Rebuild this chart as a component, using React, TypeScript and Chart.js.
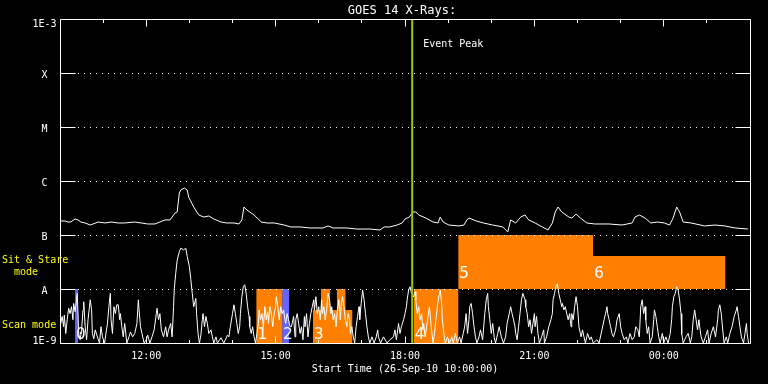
import React, { useEffect, useRef } from 'react';
import { Chart, registerables } from 'chart.js';

Chart.register(...registerables);

// ---------- data ----------
const chartTitle = 'GOES 14 X-Rays:';
const axisTitle = 'Start Time (26-Sep-10 10:00:00)';
const eventLabel = 'Event Peak';
const sitStareLines = ['Sit & Stare', '  mode'];
const scanLabel = 'Scan mode';

// minutes after 10:00 on 26-Sep-10
const timeMin = 0;
const timeMax = 960;
const xMajorMinutes = [120, 300, 480, 660, 840];
const xMajorLabels = ['12:00', '15:00', '18:00', '21:00', '00:00'];

const decadeValues = [1e-9, 1e-8, 1e-7, 1e-6, 1e-5, 1e-4, 1e-3];
const decadeLabels = ['1E-9', 'A', 'B', 'C', 'M', 'X', '1E-3'];

const eventPeakMinute = 490;

// 1-8 A channel [minute, W/m^2]
const longChannel: [number, number][] = [
  [1, 1.82e-7], [7, 1.82e-7], [11, 1.74e-7], [15, 1.74e-7], [21, 1.98e-7], [25, 1.9e-7], [29, 1.74e-7], [35, 1.67e-7],
  [42, 1.53e-7], [53, 1.74e-7], [63, 1.67e-7], [71, 1.74e-7], [81, 1.67e-7], [90, 1.67e-7], [104, 1.74e-7], [113, 1.67e-7],
  [122, 1.6e-7], [132, 1.6e-7], [139, 1.74e-7], [146, 1.9e-7], [153, 1.9e-7], [157, 2.25e-7], [160, 2.55e-7], [163, 2.67e-7],
  [166, 6.0e-7], [168, 6.81e-7], [173, 7.41e-7], [177, 6.81e-7], [179, 5.05e-7], [186, 3.3e-7], [193, 2.35e-7], [200, 2.15e-7],
  [207, 2.25e-7], [214, 1.98e-7], [224, 1.74e-7], [232, 1.67e-7], [242, 1.67e-7], [249, 1.6e-7], [253, 1.9e-7], [256, 3.3e-7],
  [260, 2.9e-7], [270, 2.35e-7], [280, 1.74e-7], [288, 1.67e-7], [298, 1.67e-7], [312, 1.53e-7], [321, 1.41e-7], [334, 1.41e-7],
  [348, 1.35e-7], [366, 1.35e-7], [373, 1.47e-7], [380, 1.35e-7], [399, 1.35e-7], [413, 1.29e-7], [431, 1.29e-7], [445, 1.24e-7],
  [451, 1.41e-7], [459, 1.41e-7], [469, 1.53e-7], [476, 1.67e-7], [480, 1.98e-7], [486, 2.15e-7], [491, 2.67e-7], [495, 2.67e-7],
  [499, 2.35e-7], [509, 2.06e-7], [519, 1.74e-7], [526, 1.67e-7], [529, 2.15e-7], [533, 1.74e-7], [541, 1.53e-7], [555, 1.47e-7],
  [562, 1.53e-7], [566, 1.9e-7], [569, 2.06e-7], [579, 1.82e-7], [589, 1.67e-7], [602, 1.53e-7], [616, 1.41e-7], [623, 1.14e-7],
  [627, 1.9e-7], [634, 1.67e-7], [641, 2.15e-7], [647, 2.35e-7], [652, 1.9e-7], [661, 1.67e-7], [671, 1.41e-7], [679, 1.24e-7],
  [685, 1.67e-7], [689, 2.67e-7], [693, 3.3e-7], [698, 2.67e-7], [708, 2.15e-7], [712, 2.06e-7], [718, 2.45e-7], [724, 2.06e-7],
  [733, 1.67e-7], [744, 1.6e-7], [764, 1.6e-7], [782, 1.53e-7], [796, 1.67e-7], [800, 2.15e-7], [806, 2.35e-7], [814, 2.06e-7],
  [822, 1.67e-7], [831, 1.74e-7], [841, 1.67e-7], [848, 1.53e-7], [853, 2.06e-7], [858, 3.3e-7], [862, 2.67e-7], [867, 1.74e-7],
  [878, 1.67e-7], [897, 1.47e-7], [911, 1.53e-7], [925, 1.47e-7], [939, 1.35e-7], [957, 1.29e-7],
];

// 0.5-4 A channel [minute, W/m^2]
const shortChannel: [number, number][] = [
  [1, 2.3e-9], [3, 3.1e-9], [5, 2.0e-9], [6, 3.3e-9], [8, 1.5e-9], [10, 2.7e-9], [12, 4.4e-9], [14, 3.5e-9], [16, 4.7e-9],
  [18, 2.7e-9], [19, 5.4e-9], [21, 3.8e-9], [24, 8.3e-9], [26, 1.5e-9], [28, 1.15e-9], [30, 1.75e-9], [32, 4.1e-9], [33, 5.8e-9],
  [35, 2.0e-9], [37, 1.15e-9], [39, 2.7e-9], [42, 6.3e-9], [44, 4.1e-9], [45, 1.5e-9], [47, 1.2e-9], [49, 1.75e-9], [52, 1.3e-9],
  [55, 1.0e-9], [57, 2.0e-9], [59, 1.3e-9], [62, 1.0e-9], [66, 2.3e-9], [68, 4.7e-9], [70, 8.3e-9], [71, 2.7e-9], [73, 1.5e-9],
  [75, 4.7e-9], [77, 3.5e-9], [79, 5.1e-9], [81, 5.1e-9], [83, 2.7e-9], [84, 3.5e-9], [86, 2.0e-9], [88, 1.3e-9], [90, 2.3e-9],
  [93, 1.0e-9], [96, 1.3e-9], [98, 1.6e-9], [101, 1.3e-9], [104, 1.5e-9], [107, 2.3e-9], [109, 6.3e-9], [110, 4.1e-9], [112, 2.0e-9],
  [114, 1.5e-9], [117, 1.0e-9], [120, 1.15e-9], [122, 1.4e-9], [125, 1.0e-9], [128, 1.3e-9], [131, 1.75e-9], [134, 3.5e-9],
  [135, 4.4e-9], [137, 2.7e-9], [139, 3.5e-9], [141, 1.75e-9], [144, 1.3e-9], [147, 2.0e-9], [149, 1.3e-9], [151, 1.75e-9],
  [154, 2.3e-9], [156, 1.3e-9], [158, 4.7e-9], [159, 1.0e-8],
  [161, 1.95e-8], [163, 3.4e-8], [166, 4.9e-8], [168, 5.7e-8], [172, 5.3e-8], [175, 5.7e-8], [177, 4.0e-8], [180, 2.6e-8],
  [182, 1.5e-8], [184, 8.3e-9], [186, 4.7e-9], [189, 6.7e-9], [190, 3.5e-9], [192, 1.5e-9], [194, 1.0e-9], [196, 1.4e-9],
  [198, 2.7e-9], [199, 3.5e-9], [201, 2.0e-9], [203, 3.1e-9], [205, 2.3e-9], [207, 1.5e-9], [210, 1.75e-9], [212, 1.3e-9],
  [214, 1.0e-9], [217, 1.3e-9], [219, 1.0e-9], [224, 1.25e-9], [228, 1.0e-9], [233, 1.4e-9], [235, 1.3e-9], [237, 2.0e-9],
  [240, 3.5e-9], [242, 5.1e-9], [244, 3.5e-9], [246, 2.3e-9], [248, 1.5e-9], [250, 2.0e-9], [251, 3.5e-9], [253, 7.2e-9],
  [255, 1.1e-8], [257, 1.2e-8], [259, 8.3e-9], [261, 4.7e-9], [263, 3.1e-9], [264, 2.0e-9], [266, 1.5e-9], [268, 2.0e-9],
  [270, 1.3e-9], [272, 1.0e-9], [274, 1.5e-9], [276, 2.3e-9], [277, 4.1e-9], [279, 2.7e-9], [281, 3.5e-9], [283, 2.0e-9],
  [285, 4.7e-9], [287, 2.7e-9], [289, 3.8e-9], [290, 2.3e-9], [292, 4.7e-9], [294, 3.5e-9], [296, 2.0e-9], [298, 3.5e-9],
  [300, 4.7e-9], [301, 7.2e-9], [303, 4.7e-9], [305, 2.7e-9], [307, 4.7e-9], [309, 3.5e-9], [311, 4.1e-9], [313, 2.7e-9],
  [314, 2.3e-9], [316, 3.5e-9], [318, 2.7e-9], [320, 2.0e-9],
  [322, 2.0e-9], [325, 3.1e-9], [327, 1.3e-9], [328, 2.7e-9], [330, 3.5e-9], [332, 2.3e-9], [334, 1.5e-9], [336, 2.0e-9],
  [338, 1.15e-9], [340, 3.1e-9], [341, 2.0e-9], [343, 3.5e-9], [345, 1.3e-9], [347, 2.3e-9], [349, 3.5e-9], [351, 4.7e-9],
  [353, 6.3e-9], [354, 4.1e-9], [356, 7.2e-9], [358, 3.5e-9], [360, 4.7e-9], [362, 2.7e-9], [364, 6.3e-9], [365, 3.5e-9],
  [367, 4.7e-9], [369, 2.7e-9], [371, 4.1e-9], [373, 8.3e-9], [375, 6.3e-9], [377, 3.5e-9], [378, 4.7e-9], [380, 2.7e-9],
  [382, 3.5e-9], [384, 2.0e-9], [386, 4.1e-9], [388, 6.3e-9], [390, 2.7e-9], [391, 4.7e-9], [393, 7.2e-9], [395, 4.7e-9],
  [397, 2.7e-9], [399, 2.0e-9], [401, 3.5e-9], [403, 2.7e-9], [404, 1.5e-9], [406, 2.0e-9], [408, 1.3e-9], [410, 1.0e-9],
  [412, 2.0e-9], [414, 3.1e-9], [416, 4.7e-9], [417, 2.7e-9], [419, 5.4e-9], [421, 9.6e-9], [423, 6.3e-9], [425, 3.5e-9],
  [427, 2.0e-9], [429, 1.3e-9], [431, 1.0e-9], [434, 1.3e-9], [437, 1.0e-9], [440, 1.3e-9], [442, 1.75e-9], [443, 1.3e-9],
  [446, 1.0e-9], [450, 1.3e-9], [455, 1.0e-9], [459, 1.15e-9], [464, 1.3e-9], [466, 1.75e-9], [468, 1.15e-9], [471, 2.3e-9],
  [473, 1.5e-9], [475, 2.0e-9], [478, 2.7e-9], [480, 3.5e-9], [482, 4.7e-9],
  [483, 6.3e-9], [485, 9.6e-9], [487, 1.1e-8], [489, 8.3e-9], [492, 7.2e-9], [494, 8.9e-9], [495, 6.3e-9], [497, 3.5e-9],
  [499, 4.7e-9], [501, 2.7e-9], [503, 3.5e-9], [505, 1.75e-9], [506, 2.3e-9], [508, 1.3e-9], [510, 2.0e-9], [512, 3.1e-9],
  [514, 4.7e-9], [516, 2.3e-9], [518, 1.3e-9], [519, 1.0e-9], [521, 1.5e-9], [523, 2.7e-9], [525, 4.7e-9], [527, 7.2e-9],
  [529, 9.6e-9], [531, 5.4e-9], [532, 2.7e-9], [534, 1.5e-9], [536, 1.0e-9], [539, 1.3e-9], [542, 1.0e-9], [545, 1.3e-9],
  [547, 1.0e-9], [550, 1.5e-9], [553, 1.0e-9], [556, 1.3e-9], [558, 1.0e-9], [561, 1.5e-9], [563, 2.0e-9], [565, 3.5e-9],
  [567, 1.5e-9], [569, 2.7e-9], [570, 4.7e-9], [572, 5.4e-9], [574, 3.5e-9], [576, 2.0e-9], [578, 1.3e-9], [580, 1.0e-9],
  [583, 1.3e-9], [585, 1.75e-9], [588, 1.15e-9], [591, 3.5e-9], [593, 6.3e-9], [595, 8.3e-9], [596, 4.7e-9], [598, 2.7e-9],
  [600, 1.5e-9], [602, 2.3e-9], [604, 1.3e-9], [606, 1.0e-9], [609, 1.5e-9], [611, 2.0e-9], [614, 1.3e-9], [617, 1.0e-9],
  [620, 1.3e-9], [622, 2.3e-9], [625, 3.5e-9], [627, 4.7e-9], [629, 3.5e-9], [631, 2.7e-9], [633, 2.0e-9], [634, 1.5e-9],
  [636, 1.15e-9], [638, 2.0e-9], [640, 3.5e-9], [642, 6.3e-9], [644, 8.3e-9],
  [647, 6.3e-9], [648, 4.7e-9], [650, 3.5e-9], [652, 2.0e-9], [654, 2.7e-9], [656, 1.5e-9], [658, 2.3e-9], [660, 3.5e-9],
  [661, 2.0e-9], [663, 3.1e-9], [665, 1.5e-9], [667, 1.0e-9], [670, 1.3e-9], [673, 1.75e-9], [674, 1.0e-9], [677, 1.3e-9],
  [680, 2.0e-9], [683, 2.7e-9], [685, 3.5e-9], [686, 6.3e-9], [688, 8.3e-9], [690, 1.1e-8], [692, 1.25e-8], [694, 8.3e-9],
  [696, 6.3e-9], [698, 4.7e-9], [699, 5.4e-9], [701, 4.1e-9], [703, 4.7e-9], [705, 3.5e-9], [707, 2.7e-9], [709, 3.5e-9],
  [711, 2.0e-9], [712, 3.5e-9], [714, 2.7e-9], [716, 4.7e-9], [718, 7.2e-9], [720, 4.7e-9], [722, 2.0e-9], [724, 1.5e-9],
  [725, 1.3e-9], [727, 1.75e-9], [729, 1.3e-9], [731, 1.0e-9], [734, 1.5e-9], [737, 1.15e-9], [739, 1.3e-9], [742, 1.0e-9],
  [747, 1.15e-9], [750, 1.0e-9], [754, 1.75e-9], [757, 2.7e-9], [759, 3.5e-9], [761, 4.7e-9], [762, 3.5e-9], [764, 2.7e-9],
  [766, 2.0e-9], [768, 1.5e-9], [770, 1.3e-9], [773, 1.75e-9], [775, 2.7e-9], [778, 3.5e-9], [780, 2.0e-9], [782, 1.5e-9],
  [785, 1.15e-9], [788, 1.3e-9], [790, 1.0e-9], [793, 1.5e-9], [796, 1.15e-9], [799, 1.3e-9], [801, 2.0e-9], [804, 1.75e-9],
  [806, 1.3e-9],
  [808, 4.7e-9], [810, 6.3e-9], [812, 3.5e-9], [814, 4.7e-9], [815, 2.7e-9], [817, 1.5e-9], [819, 2.0e-9], [821, 1.0e-9],
  [824, 1.3e-9], [826, 2.7e-9], [827, 4.1e-9], [829, 3.1e-9], [831, 2.0e-9], [833, 1.3e-9], [835, 1.0e-9], [838, 1.5e-9],
  [840, 1.0e-9], [843, 1.3e-9], [846, 1.0e-9], [849, 1.5e-9], [851, 2.7e-9], [852, 4.7e-9], [854, 7.2e-9], [856, 8.3e-9],
  [858, 1.1e-8], [860, 9.6e-9], [862, 6.3e-9], [864, 3.5e-9], [865, 1.5e-9], [867, 1.0e-9], [871, 1.3e-9], [874, 1.5e-9],
  [877, 1.0e-9], [879, 1.3e-9], [881, 2.7e-9], [883, 4.1e-9], [885, 2.7e-9], [887, 1.75e-9], [889, 2.7e-9], [890, 2.0e-9],
  [892, 1.3e-9], [895, 1.0e-9], [898, 1.3e-9], [901, 1.75e-9], [903, 1.0e-9], [906, 1.5e-9], [909, 2.0e-9], [912, 1.3e-9],
  [915, 2.7e-9], [916, 4.1e-9], [918, 5.1e-9], [920, 3.5e-9], [922, 1.75e-9], [924, 1.0e-9], [927, 1.3e-9], [929, 1.0e-9],
  [932, 1.5e-9], [935, 2.0e-9], [938, 3.1e-9], [941, 4.1e-9], [942, 4.7e-9], [944, 3.1e-9], [946, 2.0e-9], [948, 1.3e-9],
  [951, 1.0e-9], [953, 1.5e-9], [955, 2.3e-9], [956, 1.5e-9], [958, 1.0e-9],
];

// observing-mode blocks (minutes, flux bounds)
const blockStart = [21, 273, 309, 352, 363, 385, 492, 554, 741.5];
const blockEnd = [25, 309.5, 319, 407, 376, 397.5, 554.5, 742, 926];
const blockLow = [1e-9, 1e-9, 1e-9, 1e-9, 1e-9, 1e-9, 1e-9, 1e-8, 1e-8];
const blockHigh = [1e-8, 1e-8, 1e-8, 4.1e-9, 1e-8, 1e-8, 1e-8, 1e-7, 4.1e-8];
const blockKind = ['cal', 'obs', 'cal', 'obs', 'obs', 'obs', 'obs', 'obs', 'obs'];

const markText = ['0', '1', '2', '3', '4', '5', '6'];
const markMinute = [21, 273, 309, 352, 492, 554, 742];
const markBase = [1e-9, 1e-9, 1e-9, 1e-9, 1e-9, 1e-8, 1e-8];

// ---------- styles ----------
const ORANGE = '#ff8000';
const BLUE = '#6666ff';
const GREEN = '#9cc800';
const YELLOW = '#ffff00';
const MONO = '"DejaVu Sans Mono", "Liberation Mono", monospace';

const crisp = (p: number) => Math.floor(p + 0.01) + 0.5;

const decorPlugin = {
  id: 'goesDecor',
  beforeDraw(chart: any) {
    const { ctx, width, height } = chart;
    ctx.save();
    ctx.fillStyle = '#000';
    ctx.fillRect(0, 0, width, height);
    ctx.restore();
  },
  beforeDatasetsDraw(chart: any) {
    const { ctx, chartArea: a, scales } = chart;
    const ys = scales.y;
    ctx.save();
    ctx.strokeStyle = '#fff';
    ctx.lineWidth = 1;
    ctx.setLineDash([1, 5]);
    decadeValues.forEach((v, i) => {
      if (i === 0 || i === decadeValues.length - 1) return;
      const py = crisp(ys.getPixelForValue(v));
      ctx.beginPath();
      ctx.moveTo(a.left + 18, py);
      ctx.lineTo(a.right - 17, py);
      ctx.stroke();
    });
    ctx.restore();
  },
  afterDatasetsDraw(chart: any) {
    const { ctx, chartArea: a, scales } = chart;
    const xs = scales.x;
    const ys = scales.y;
    const L = crisp(a.left), R = crisp(a.right), T = crisp(a.top), B = crisp(a.bottom);
    ctx.save();
    ctx.strokeStyle = '#fff';
    ctx.lineWidth = 1;
    ctx.setLineDash([]);
    // frame
    ctx.beginPath();
    ctx.moveTo(L, T); ctx.lineTo(R, T); ctx.lineTo(R, B); ctx.lineTo(L, B); ctx.closePath();
    ctx.stroke();
    // y decade ticks
    decadeValues.forEach((v) => {
      const py = crisp(ys.getPixelForValue(v));
      ctx.beginPath();
      ctx.moveTo(L, py); ctx.lineTo(L + 15, py);
      ctx.moveTo(R - 15, py); ctx.lineTo(R, py);
      ctx.stroke();
    });
    // x ticks every hour
    for (let m = timeMin + 60; m < timeMax; m += 60) {
      const px = crisp(xs.getPixelForValue(m));
      const len = xMajorMinutes.includes(m) ? 7 : 3.5;
      ctx.beginPath();
      ctx.moveTo(px, T); ctx.lineTo(px, T + len);
      ctx.moveTo(px, B); ctx.lineTo(px, B - len);
      ctx.stroke();
    }

    ctx.fillStyle = '#fff';
    ctx.textBaseline = 'alphabetic';
    // title
    ctx.font = `12px ${MONO}`;
    ctx.textAlign = 'center';
    ctx.fillText(chartTitle, (a.left + a.right) / 2 - 3, a.top - 5);
    // x labels
    ctx.font = `10px ${MONO}`;
    xMajorMinutes.forEach((m, i) => {
      ctx.fillText(xMajorLabels[i], xs.getPixelForValue(m), a.bottom + 15.5);
    });
    ctx.fillText(axisTitle, (a.left + a.right) / 2, a.bottom + 29);
    // y labels
    decadeValues.forEach((v, i) => {
      const py = ys.getPixelForValue(v);
      let dy = 4.5;
      if (i === decadeValues.length - 1) dy = 8;
      if (i === 0) dy = 1;
      ctx.fillText(decadeLabels[i], a.left - 15.5, py + dy);
    });
    // event label
    ctx.textAlign = 'left';
    ctx.fillText(eventLabel, xs.getPixelForValue(eventPeakMinute) + 11, a.top + 28);
    // mode labels
    ctx.fillStyle = YELLOW;
    const yA = ys.getPixelForValue(1e-8);
    const yBot = ys.getPixelForValue(1e-9);
    ctx.fillText(sitStareLines[0], 2, yA - 26);
    ctx.fillText(sitStareLines[1], 2, yA - 14);
    ctx.fillText(scanLabel, 2, yBot - 15);
    // block numbers
    ctx.fillStyle = '#fff';
    ctx.font = `16px ${MONO}`;
    markText.forEach((t, i) => {
      const base = ys.getPixelForValue(markBase[i]);
      const lift = markBase[i] > 5e-9 ? 11 : 4.5;
      ctx.fillText(t, xs.getPixelForValue(markMinute[i]) + 1, base - lift);
    });
    ctx.restore();
  },
};

export default function App() {
  const canvasRef = useRef<HTMLCanvasElement | null>(null);

  useEffect(() => {
    document.body.style.margin = '0';
    document.body.style.background = '#000';
    const canvas = canvasRef.current;
    if (!canvas) return;

    const blockSets = blockStart.map((s, i) => ({
      type: 'line' as const,
      data: [{ x: s, y: blockHigh[i] }, { x: blockEnd[i], y: blockHigh[i] }],
      borderWidth: 0,
      pointRadius: 0,
      backgroundColor: blockKind[i] === 'cal' ? BLUE : ORANGE,
      fill: { value: blockLow[i] },
    }));

    const chart = new Chart(canvas, {
      type: 'line',
      data: {
        datasets: [
          {
            data: [{ x: eventPeakMinute, y: 1e-9 }, { x: eventPeakMinute, y: 1e-3 }],
            borderColor: GREEN,
            borderWidth: 2,
            pointRadius: 0,
            fill: false,
          },
          {
            data: shortChannel.map(([x, y]) => ({ x, y })),
            borderColor: '#ffffff',
            borderWidth: 1,
            pointRadius: 0,
            fill: false,
          },
          {
            data: longChannel.map(([x, y]) => ({ x, y })),
            borderColor: '#ffffff',
            borderWidth: 1,
            pointRadius: 0,
            fill: false,
          },
          ...blockSets,
        ] as any,
      },
      options: {
        animation: false,
        responsive: false,
        devicePixelRatio: 1,
        events: [],
        layout: { padding: { left: 60, right: 18, top: 19, bottom: 41 } },
        scales: {
          x: { type: 'linear', min: timeMin, max: timeMax, display: false },
          y: { type: 'logarithmic', min: 1e-9, max: 1e-3, display: false },
        },
        plugins: {
          legend: { display: false },
          tooltip: { enabled: false },
          filler: { drawTime: 'beforeDatasetsDraw' } as any,
        },
      },
      plugins: [decorPlugin],
    });
    return () => chart.destroy();
  }, []);

  return (
    <div style={{ position: 'fixed', left: 0, top: 0, width: 768, height: 384, background: '#000' }}>
      <canvas ref={canvasRef} width={768} height={384} style={{ display: 'block' }} />
    </div>
  );
}
